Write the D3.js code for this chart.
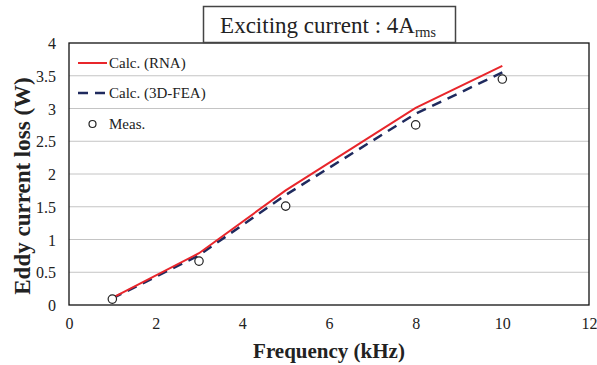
<!DOCTYPE html>
<html>
<head>
<meta charset="utf-8">
<script src="https://cdn.jsdelivr.net/npm/d3@7"></script>
<style>
  body { margin: 0; background: #fff; }
  text { font-family: "Liberation Serif", "DejaVu Serif", serif; fill: #222; }
</style>
</head>
<body>
<div id="chart"></div>
<script>
// data
const freq = [1, 3, 5, 8, 10];
const rna = [0.11, 0.79, 1.75, 3.01, 3.65];
const fea = [0.10, 0.76, 1.68, 2.92, 3.55];
const meas = [0.09, 0.67, 1.51, 2.75, 3.45];
const xTicks = [0, 2, 4, 6, 8, 10, 12];
const yTicks = [0, 0.5, 1, 1.5, 2, 2.5, 3, 3.5, 4];

let width = 597, height = 365;
let margin = { top: 43, right: 8, bottom: 60, left: 69 };
let iw = width - margin.left - margin.right,
  ih = height - margin.top - margin.bottom;

let x = d3.scaleLinear().domain([0, 12]).range([0, iw]),
  y = d3.scaleLinear().domain([0, 4]).range([ih, 0]);

const svg = d3.select("#chart").append("svg")
  .attr("width", width).attr("height", height);

const focus = svg.append("g")
  .attr("transform", "translate(" + margin.left + "," + margin.top + ")");

// gridlines
focus.selectAll("line.grid")
  .data(yTicks.filter(d => d > 0 && d < 4))
  .join("line")
  .attr("class", "grid")
  .attr("x1", 0).attr("x2", iw)
  .attr("y1", d => y(d)).attr("y2", d => y(d))
  .attr("stroke", "#c4c4c4").attr("stroke-width", 1);

// axes (labels only, border drawn separately)
const xAxis = d3.axisBottom(x).tickValues(xTicks).tickSize(0).tickPadding(13);
const yAxis = d3.axisLeft(y).tickValues(yTicks).tickSize(0).tickPadding(13)
  .tickFormat(d3.format("~g"));

focus.append("g").attr("transform", "translate(0," + ih + ")").call(xAxis)
  .call(g => g.select(".domain").remove())
  .selectAll("text").style("font-family", "Liberation Serif").style("font-size", "16px").attr("fill", "#222");
focus.append("g").call(yAxis)
  .call(g => g.select(".domain").remove())
  .selectAll("text").style("font-family", "Liberation Serif").style("font-size", "16px").attr("fill", "#222")
  .attr("dy", "0.35em");

// plot border
focus.append("rect")
  .attr("width", iw).attr("height", ih)
  .attr("fill", "none").attr("stroke", "#111").attr("stroke-width", 1.3);

const line = d3.line().x(d => x(d[0])).y(d => y(d[1]));

focus.append("path")
  .datum(freq.map((f, i) => [f, fea[i]]))
  .attr("d", line)
  .attr("fill", "none").attr("stroke", "#1f2a5e").attr("stroke-width", 2.5)
  .attr("stroke-dasharray", "10,7");

focus.append("path")
  .datum(freq.map((f, i) => [f, rna[i]]))
  .attr("d", line)
  .attr("fill", "none").attr("stroke", "#e8262b").attr("stroke-width", 2);

focus.selectAll("circle.meas")
  .data(freq.map((f, i) => [f, meas[i]]))
  .join("circle")
  .attr("class", "meas")
  .attr("cx", d => x(d[0])).attr("cy", d => y(d[1]))
  .attr("r", 4.2)
  .attr("fill", "#fff").attr("stroke", "#222").attr("stroke-width", 1.2);

// legend
const legend = focus.append("g").attr("transform", "translate(9,20)");
legend.append("line").attr("x1", 0).attr("x2", 29).attr("y1", 0).attr("y2", 0)
  .attr("stroke", "#e8262b").attr("stroke-width", 2);
legend.append("text").attr("x", 31).attr("y", 5).style("font-size", "15px").text("Calc. (RNA)");
legend.append("line").attr("x1", 0).attr("x2", 29).attr("y1", 30).attr("y2", 30)
  .attr("stroke", "#1f2a5e").attr("stroke-width", 2.5).attr("stroke-dasharray", "10,7");
legend.append("text").attr("x", 31).attr("y", 35).style("font-size", "15px").text("Calc. (3D-FEA)");
legend.append("circle").attr("cx", 14.5).attr("cy", 61).attr("r", 3.5)
  .attr("fill", "#fff").attr("stroke", "#222").attr("stroke-width", 1.2);
legend.append("text").attr("x", 31).attr("y", 66).style("font-size", "15px").text("Meas.");

// axis titles
svg.append("text")
  .attr("x", margin.left + iw / 2).attr("y", 358)
  .attr("text-anchor", "middle")
  .style("font-size", "21px").style("font-weight", "bold")
  .text("Frequency (kHz)");
svg.append("text")
  .attr("transform", "translate(30,186) rotate(-90)")
  .attr("text-anchor", "middle")
  .style("font-size", "23px").style("font-weight", "bold")
  .text("Eddy current loss (W)");

// title box
const tb = svg.append("g");
tb.append("rect").attr("x", 203.5).attr("y", 6.5).attr("width", 252).attr("height", 36)
  .attr("fill", "#fff").attr("stroke", "#444").attr("stroke-width", 1.5);
const tt = tb.append("text").attr("x", 328).attr("y", 33)
  .attr("text-anchor", "middle")
  .style("font-family", "Liberation Serif").style("font-size", "23px");
tt.append("tspan").text("Exciting current : 4A");
tt.append("tspan").attr("dy", 4).style("font-size", "14px").text("rms");
</script>
</body>
</html>
